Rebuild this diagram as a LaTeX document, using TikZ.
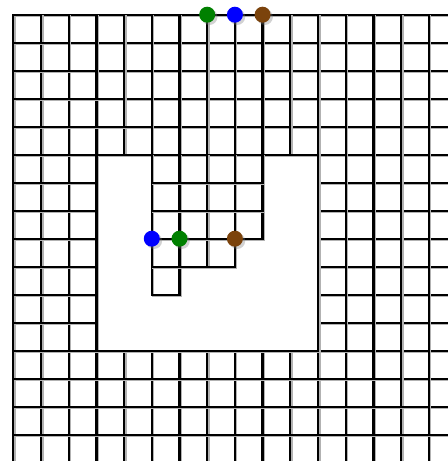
\documentclass[tikz,border=0pt]{standalone}
\usepackage{xcolor}
\usepackage{tikz}
\usetikzlibrary{shadows}
\definecolor{dotgreen}{RGB}{0,128,0}
\definecolor{dotblue}{RGB}{0,0,255}
\definecolor{dotbrown}{RGB}{123,67,12}
\tikzset{
  cell/.style={line width=1.3pt, draw=black,
    preaction={draw=black!30, line width=1.3pt, transform canvas={xshift=0.8pt, yshift=-0.8pt}}},
  dotv/.style={circle, minimum size=0.32cm, inner sep=0pt,
    drop shadow={opacity=0.35, shadow xshift=1.3pt, shadow yshift=-1.3pt}},
  every picture/.style={line cap=rect, line join=miter}
}

\begin{document}
\begin{tikzpicture}[x=0.554cm, y=-0.56cm]
  \useasboundingbox (-0.48,-0.525) rectangle (15.69,15.94);
  \fill[white] (-0.48,-0.525) rectangle (15.69,15.94);
  \clip (-0.48,-0.525) rectangle (15.69,15.94);
  % outer grid
  \foreach \k in {0,...,16} {
    \draw[cell] (\k,0) -- (\k,16);
    \draw[cell] (0,\k) -- (16,\k);
  }
  % the hole
  \fill[white] (3,5) rectangle (11,12);
  \draw[cell] (3,5) rectangle (11,12);
  % cells left inside the hole
  \foreach \x/\ya/\yb in {5/5/10, 6/5/10, 7/5/9, 8/5/9, 9/5/8}
    \draw[cell] (\x,\ya) -- (\x,\yb);
  \foreach \y/\xa/\xb in {6/5/9, 7/5/9, 8/5/9, 9/5/8, 10/5/6}
    \draw[cell] (\xa,\y) -- (\xb,\y);
  % dots
  \node[dotv, fill=dotgreen] (topgreen) at (7,0) {};
  \node[dotv, fill=dotblue] (topblue) at (8,0) {};
  \node[dotv, fill=dotbrown] (topbrown) at (9,0) {};
  \node[dotv, fill=dotblue] (inblue) at (5,8) {};
  \node[dotv, fill=dotgreen] (ingreen) at (6,8) {};
  \node[dotv, fill=dotbrown] (inbrown) at (8,8) {};
\end{tikzpicture}
\end{document}
